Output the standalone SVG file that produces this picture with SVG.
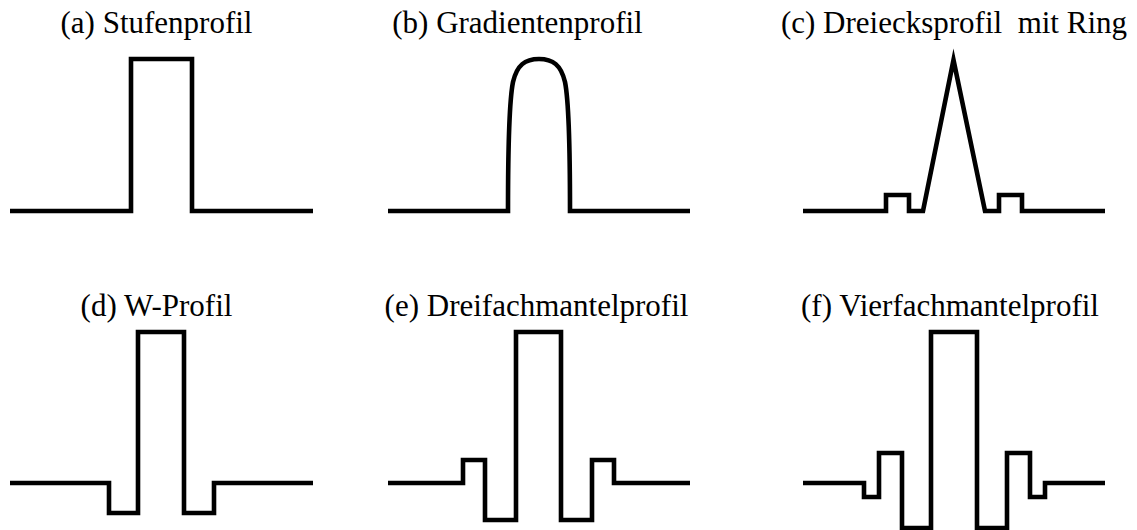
<svg xmlns="http://www.w3.org/2000/svg" width="1137" height="530" viewBox="0 0 1137 530">
<style>
.lbl{font-family:"Liberation Serif","Times New Roman",serif;font-size:31px;fill:#000;text-anchor:middle;white-space:pre}
.prof{fill:none;stroke:#000;stroke-width:4.6;stroke-linejoin:miter;stroke-miterlimit:12;stroke-linecap:butt}
</style>
<rect width="1137" height="530" fill="#fff"/>
<g id="a">
<text class="lbl" x="156.5" y="33">(a) Stufenprofil</text>
<path class="prof" d="M10,211 H131 V59 H192 V211 H313"/>
</g>
<g id="b">
<text class="lbl" x="517.5" y="33">(b) Gradientenprofil</text>
<path class="prof" d="M388,211 H508 C508,150 509,102 513,82 C517,65 525,59 539,59 C553,59 561,65 565,82 C569,102 570,150 570,211 H690"/>
</g>
<g id="c">
<text class="lbl" x="954" y="33" xml:space="preserve">(c) Dreiecksprofil  mit Ring</text>
<path class="prof" d="M803,211 H886 V195 H909 V211 H923 L953.5,60 L985,211 H999 V195 H1022 V211 H1105"/>
</g>
<g id="d">
<text class="lbl" x="156.5" y="316">(d) W-Profil</text>
<path class="prof" d="M10,483 H109 V513 H138 V332 H184 V513 H214 V483 H313"/>
</g>
<g id="e">
<text class="lbl" x="536.5" y="316">(e) Dreifachmantelprofil</text>
<path class="prof" d="M388,483 H463 V460 H485 V520 H516 V332 H561 V520 H592 V460 H614 V483 H690"/>
</g>
<g id="f">
<text class="lbl" x="950" y="316">(f) Vierfachmantelprofil</text>
<path class="prof" d="M803,483 H864 V497 H879 V453 H902 V528 H931 V332 H977 V528 H1007 V453 H1030 V497 H1045 V483 H1105"/>
</g>
</svg>
